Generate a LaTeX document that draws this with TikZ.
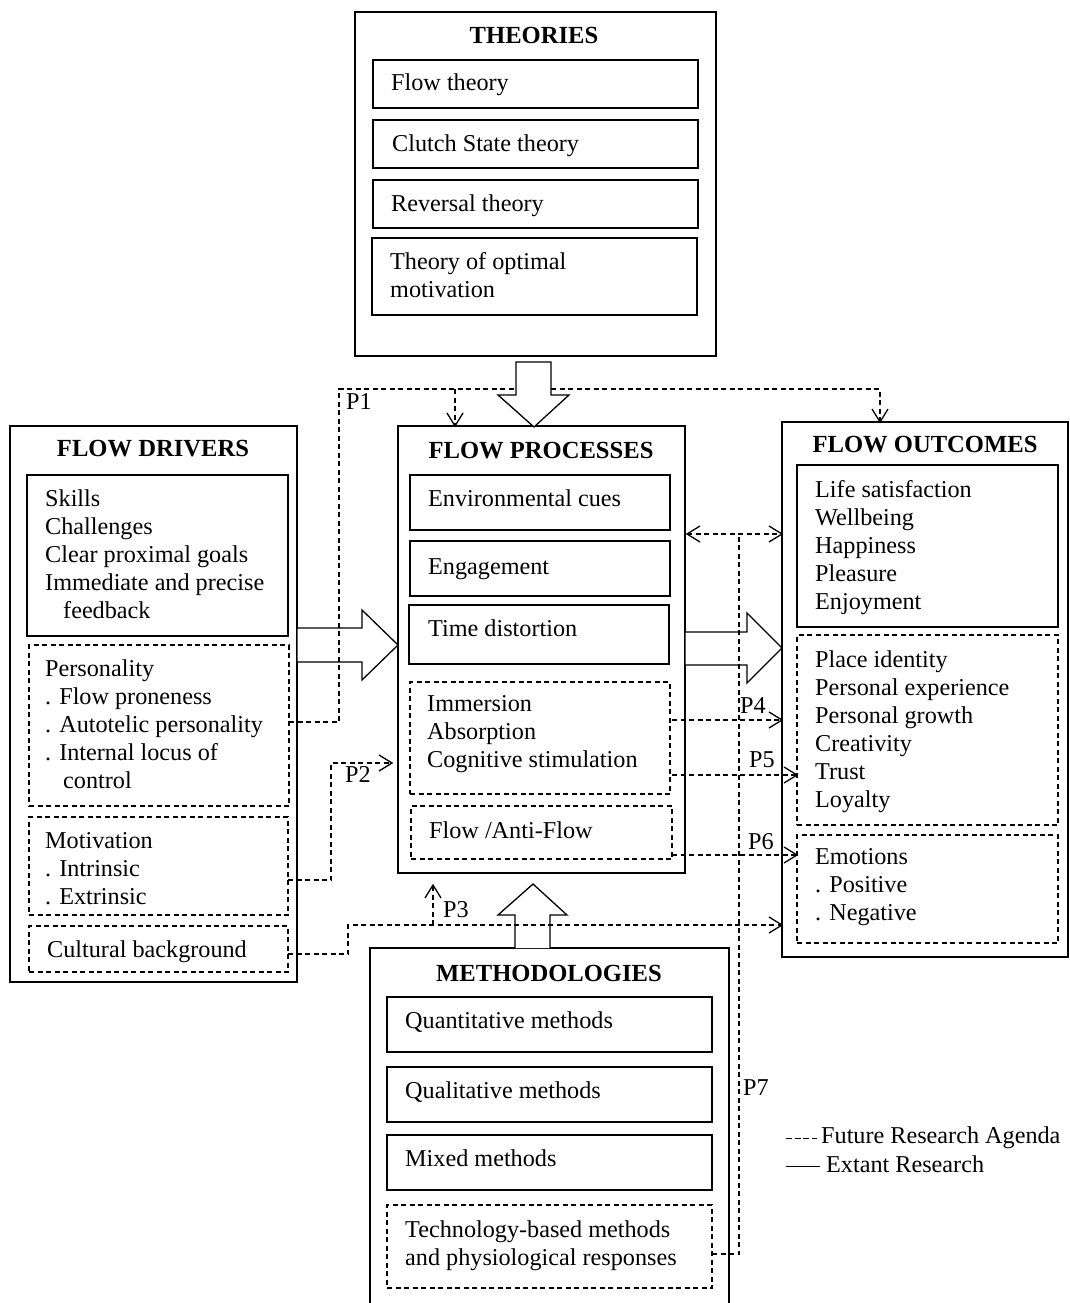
\documentclass[tikz,border=0pt]{standalone}
\usepackage{fontspec}
\setmainfont{Liberation Serif}
\usetikzlibrary{calc}
\newcommand{\mkbox}[6]{\node[#1, minimum width={#5-#3}, minimum height={#6-#4}] (#2) at (#3,#4) {};}
\newcommand{\tipR}[1]{\draw[vtip] ($(#1)+(-13,-8)$) -- (#1) -- ($(#1)+(-13,8)$);}
\newcommand{\tipL}[1]{\draw[vtip] ($(#1)+(13,-8)$) -- (#1) -- ($(#1)+(13,8)$);}
\newcommand{\tipD}[1]{\draw[vtip] ($(#1)+(-8,-13)$) -- (#1) -- ($(#1)+(8,-13)$);}
\newcommand{\tipU}[1]{\draw[vtip] ($(#1)+(-8,13)$) -- (#1) -- ($(#1)+(8,13)$);}
\begin{document}
\begin{tikzpicture}[x=1pt,y=-1pt,
  sb/.style={draw, line width=1.3pt, inner sep=0, outer sep=0, anchor=north west},
  db/.style={sb, dash pattern=on 5pt off 3.5pt},
  tx/.style={anchor=north west, inner sep=0, align=left, font=\fontsize{24.2}{28}\selectfont},
  ttl/.style={anchor=north, inner sep=0, font=\fontsize{24.6}{28}\selectfont\bfseries},
  lbl/.style={anchor=north west, inner sep=0, font=\fontsize{24.2}{28}\selectfont},
  dl/.style={line width=1.3pt, dash pattern=on 5pt off 3.5pt},
  vtip/.style={line width=1.3pt, solid, line join=miter},
  blk/.style={draw, line width=1.3pt, fill=white, line join=miter}]
\useasboundingbox (0,0) rectangle (1070,1303);

% ---------- THEORIES ----------
\mkbox{sb}{theo}{355}{12}{716}{356}
\node[ttl] (theoT) at (534,24) {\strut THEORIES};
\mkbox{sb}{th1}{373}{60}{698}{108}
\node[tx] (th1t) at (391,71) {\strut Flow theory};
\mkbox{sb}{th2}{373}{120}{698}{168}
\node[tx] (th2t) at (392,132) {\strut Clutch State theory};
\mkbox{sb}{th3}{373}{180}{698}{228}
\node[tx] (th3t) at (391,192) {\strut Reversal theory};
\mkbox{sb}{th4}{372}{238}{697}{315}
\node[tx] (th4t) at (390,250) {\strut Theory of optimal\\motivation};

% ---------- FLOW DRIVERS ----------
\mkbox{sb}{drv}{10}{426}{297}{982}
\node[ttl] (drvT) at (153,437) {\strut FLOW DRIVERS};
\mkbox{sb}{skl}{27}{475}{288}{636}
\node[tx] (sklt) at (45,487) {\strut Skills\\Challenges\\Clear proximal goals\\Immediate and precise\\\hspace*{18pt}feedback};
\mkbox{db}{pers}{29}{645}{289}{806}
\node[tx] (perst) at (45,657) {\strut Personality\\. Flow proneness\\. Autotelic personality\\. Internal locus of\\\hspace*{18pt}control};
\mkbox{db}{motiv}{29}{817}{288}{915}
\node[tx] (motivt) at (45,829) {\strut Motivation\\. Intrinsic\\. Extrinsic};
\mkbox{db}{cult}{29}{926}{288}{972}
\node[tx] (cultt) at (47,938) {\strut Cultural background};

% ---------- FLOW PROCESSES ----------
\mkbox{sb}{proc}{398}{426}{685}{873}
\node[ttl] (procT) at (541,439) {\strut FLOW PROCESSES};
\mkbox{sb}{env}{410}{475}{670}{530}
\node[tx] (envt) at (428,487) {\strut Environmental cues};
\mkbox{sb}{eng}{410}{541}{670}{596}
\node[tx] (engt) at (428,555) {\strut Engagement};
\mkbox{sb}{tim}{409}{605}{669}{664}
\node[tx] (timt) at (428,617) {\strut Time distortion};
\mkbox{db}{imm}{410}{682}{670}{794}
\node[tx] (immt) at (427,692) {\strut Immersion\\Absorption\\Cognitive stimulation};
\mkbox{db}{flw}{411}{806}{672}{859}
\node[tx] (flwt) at (429,819) {\strut Flow /Anti-Flow};

% ---------- FLOW OUTCOMES ----------
\mkbox{sb}{outc}{782}{422}{1068}{957}
\node[ttl] (outcT) at (925,433) {\strut FLOW OUTCOMES};
\mkbox{sb}{life}{797}{465}{1058}{627}
\node[tx] (lifet) at (815,478) {\strut Life satisfaction\\Wellbeing\\Happiness\\Pleasure\\Enjoyment};
\mkbox{db}{pid}{797}{635}{1058}{825}
\node[tx] (pidt) at (815,648) {\strut Place identity\\Personal experience\\Personal growth\\Creativity\\Trust\\Loyalty};
\mkbox{db}{emo}{797}{835}{1058}{943}
\node[tx] (emot) at (815,845) {\strut Emotions\\. Positive\\. Negative};

% ---------- METHODOLOGIES ----------
\mkbox{sb}{meth}{370}{948}{729}{1306}
\node[ttl] (methT) at (549,962) {\strut METHODOLOGIES};
\mkbox{sb}{m1}{387}{997}{712}{1052}
\node[tx] (m1t) at (405,1009) {\strut Quantitative methods};
\mkbox{sb}{m2}{387}{1067}{712}{1122}
\node[tx] (m2t) at (405,1079) {\strut Qualitative methods};
\mkbox{sb}{m3}{387}{1135}{712}{1190}
\node[tx] (m3t) at (405,1147) {\strut Mixed methods};
\mkbox{db}{m4}{387}{1205}{712}{1288}
\node[tx] (m4t) at (405,1218) {\strut Technology-based methods\\and physiological responses};

% ---------- block arrows ----------
\draw[blk] (drv.east |- 0,628) -- (362,628) -- (362,610) -- (proc.west |- 0,645) -- (362,680) -- (362,662) -- (drv.east |- 0,662) -- cycle;
\draw[blk] (proc.east |- 0,632) -- (747,632) -- (747,613) -- (outc.west |- 0,648) -- (747,683) -- (747,665) -- (proc.east |- 0,665) -- cycle;
\draw[blk] (515,948) -- (515,915) -- (498,915) -- (533,884) -- (567,915) -- (550,915) -- (550,948);

% ---------- dashed connectors ----------
\coordinate (p1a) at (339,389);
\coordinate (p1b) at (880,389);
\coordinate (p1c) at (455,389);
\coordinate (p1e) at (outc.north -| p1b);
\coordinate (p1f) at (proc.north -| p1c);
\draw[dl] (pers.east |- 0,722) -| (p1a) -- (p1b) -- (p1e);
\draw[dl] (p1c) -- (p1f);
\tipD{p1e}
\tipD{p1f}

\coordinate (p2a) at (331,763);
\coordinate (p2b) at (392,763);
\draw[dl] (motiv.east |- 0,880) -| (p2a) -- (p2b);
\tipR{p2b}

\coordinate (c1) at (348,925);
\coordinate (c2) at (outc.west |- c1);
\coordinate (p3a) at (433,925);
\coordinate (p3b) at (433,885);
\draw[dl] (cult.east |- 0,954) -| (c1) -- (c2);
\draw[dl] (p3a) -- (p3b);
\tipR{c2}
\tipU{p3b}

\coordinate (p4a) at (672,720);
\coordinate (p4b) at (outc.west |- p4a);
\draw[dl] (p4a) -- (p4b);
\tipR{p4b}
\coordinate (p5a) at (672,775);
\coordinate (p5b) at (pid.west |- p5a);
\draw[dl] (p5a) -- (p5b);
\tipR{p5b}
\coordinate (p6a) at (672,855);
\coordinate (p6b) at (emo.west |- p6a);
\draw[dl] (p6a) -- (p6b);
\tipR{p6b}

\coordinate (p7a) at (739,534);
\coordinate (p7l) at (687,534);
\coordinate (p7r) at (outc.west |- p7l);
\draw[dl] (m4.east |- 0,1254) -| (p7a);
\draw[dl] (p7l) -- (p7r);
\tipL{p7l}
\tipR{p7r}

% theories arrow on top
\draw[blk] (516,362) -- (551,362) -- (551,395) -- (569,395) -- (534,427) -- (498,395) -- (516,395) -- cycle;

% ---------- labels ----------
\node[lbl] (P1) at (346,390) {\strut P1};
\node[lbl] (P2) at (345,763) {\strut P2};
\node[lbl] (P3) at (443,898) {\strut P3};
\node[lbl] (P4) at (740,694) {\strut P4};
\node[lbl] (P5) at (749,748) {\strut P5};
\node[lbl] (P6) at (748,830) {\strut P6};
\node[lbl] (P7) at (743,1076) {\strut P7};

% ---------- legend ----------
\coordinate (lg1a) at (786,1138);
\coordinate (lg1b) at (817,1138);
\coordinate (lg2a) at (786,1166);
\coordinate (lg2b) at (820,1166);
\draw[line width=1pt, dash pattern=on 6pt off 2.5pt] (lg1a) -- (lg1b);
\draw[line width=1pt] (lg2a) -- (lg2b);
\node[lbl] (lgt1) at (821,1124) {\strut Future Research Agenda};
\node[lbl] (lgt2) at (826,1153) {\strut Extant Research};
\end{tikzpicture}
\end{document}
